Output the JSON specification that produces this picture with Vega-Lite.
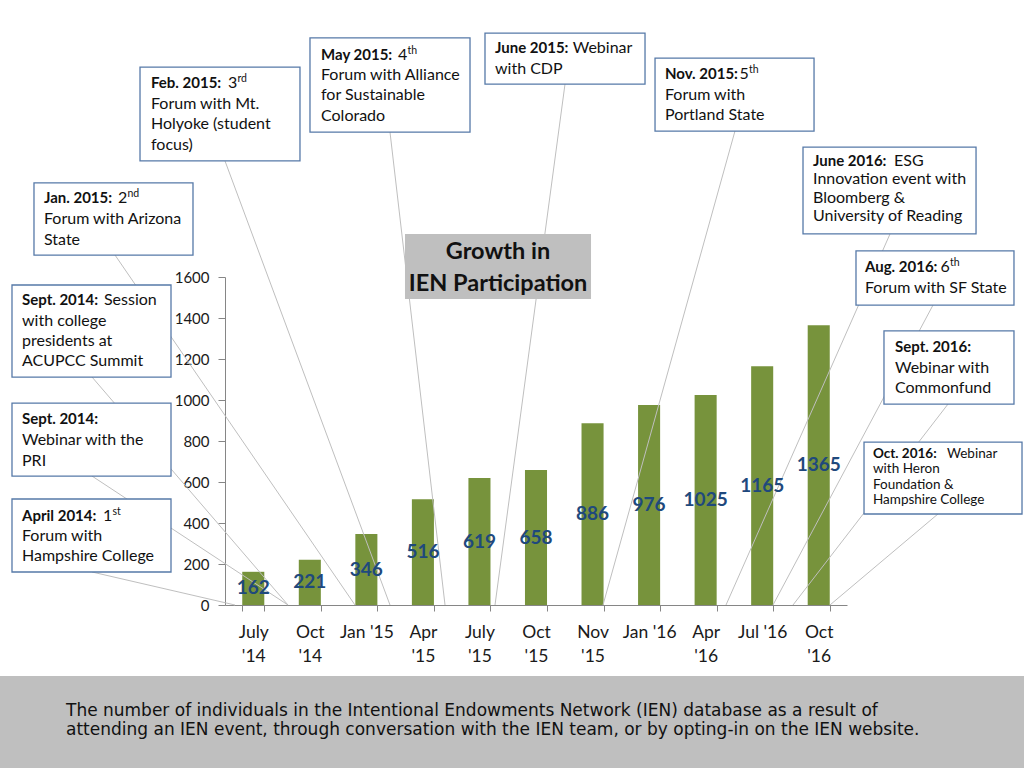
{
  "$schema": "https://vega.github.io/schema/vega-lite/v6.json",
  "width": 622,
  "height": 328,
  "autosize": {"type": "none"},
  "padding": {"left": 225, "top": 277, "right": 177, "bottom": 163},
  "background": "white",
  "config": {"view": {"stroke": null}, "font": "Lato"},
  "datasets": {
    "growth": [
      {"period": "July '14", "value": 162},
      {"period": "Oct '14", "value": 221},
      {"period": "Jan '15", "value": 346},
      {"period": "Apr '15", "value": 516},
      {"period": "July '15", "value": 619},
      {"period": "Oct '15", "value": 658},
      {"period": "Nov '15", "value": 886},
      {"period": "Jan '16", "value": 976},
      {"period": "Apr '16", "value": 1025},
      {"period": "Jul '16", "value": 1165},
      {"period": "Oct '16", "value": 1365}
    ],
    "boxes": [
      {"x": -2.003, "x2": 0.826, "y": 2624, "y2": 2166},
      {"x": 1.003, "x2": 3.833, "y": 2766, "y2": 2307},
      {"x": 4.098, "x2": 6.928, "y": 2790, "y2": 2541},
      {"x": 7.105, "x2": 9.917, "y": 2668, "y2": 2312},
      {"x": 9.722, "x2": 12.782, "y": 2234, "y2": 1810},
      {"x": -3.878, "x2": -1.066, "y": 2059, "y2": 1707},
      {"x": 10.659, "x2": 13.453, "y": 1727, "y2": 1463},
      {"x": -4.267, "x2": -1.455, "y": 1561, "y2": 1112},
      {"x": 11.154, "x2": 13.453, "y": 1337, "y2": 980},
      {"x": -4.267, "x2": -1.455, "y": 985, "y2": 629},
      {"x": 10.801, "x2": 13.595, "y": 795, "y2": 444},
      {"x": -4.267, "x2": -1.455, "y": 517, "y2": 161}
    ],
    "leaders": [
      {"x": -2.852, "y": 161, "x2": -0.323, "y2": 0},
      {"x": -2.852, "y": 1112, "x2": 0.614, "y2": 0},
      {"x": -2.852, "y": 629, "x2": 0.614, "y2": 0},
      {"x": -2.445, "y": 1707, "x2": 1.799, "y2": 0},
      {"x": -0.5, "y": 2166, "x2": 2.418, "y2": 0},
      {"x": 2.418, "y": 2307, "x2": 3.391, "y2": 0},
      {"x": 5.513, "y": 2541, "x2": 4.275, "y2": 0},
      {"x": 8.519, "y": 2312, "x2": 6.185, "y2": 0},
      {"x": 11.261, "y": 1810, "x2": 8.36, "y2": 0},
      {"x": 12.021, "y": 1463, "x2": 9.191, "y2": 0},
      {"x": 12.286, "y": 980, "x2": 9.545, "y2": 0},
      {"x": 12.109, "y": 444, "x2": 10.199, "y2": 0}
    ],
    "notes": [
      {"t": "Feb. 2015:", "x": -1.809, "y": 2546, "k": "b"},
      {"t": "3", "x": -0.447, "y": 2546, "k": "n"},
      {"t": "rd", "x": -0.279, "y": 2566, "k": "s"},
      {"t": "Forum with Mt.", "x": -1.809, "y": 2444, "k": "n"},
      {"t": "Holyoke (student", "x": -1.809, "y": 2346, "k": "n"},
      {"t": "focus)", "x": -1.809, "y": 2244, "k": "n"},
      {"t": "May 2015:", "x": 1.198, "y": 2683, "k": "b"},
      {"t": "4", "x": 2.56, "y": 2683, "k": "n"},
      {"t": "th", "x": 2.727, "y": 2703, "k": "s"},
      {"t": "Forum with Alliance", "x": 1.198, "y": 2585, "k": "n"},
      {"t": "for Sustainable", "x": 1.198, "y": 2488, "k": "n"},
      {"t": "Colorado", "x": 1.198, "y": 2385, "k": "n"},
      {"t": "June 2015:", "x": 4.275, "y": 2717, "k": "b"},
      {"t": "Webinar", "x": 5.65, "y": 2717, "k": "n"},
      {"t": "with CDP", "x": 4.275, "y": 2615, "k": "n"},
      {"t": "Nov. 2015:", "x": 7.281, "y": 2590, "k": "b"},
      {"t": "5", "x": 8.6, "y": 2590, "k": "n"},
      {"t": "th", "x": 8.768, "y": 2610, "k": "s"},
      {"t": "Forum with", "x": 7.281, "y": 2488, "k": "n"},
      {"t": "Portland State", "x": 7.281, "y": 2390, "k": "n"},
      {"t": "June 2016:", "x": 9.899, "y": 2166, "k": "b"},
      {"t": "ESG", "x": 11.331, "y": 2166, "k": "n"},
      {"t": "Innovation event with", "x": 9.899, "y": 2078, "k": "n"},
      {"t": "Bloomberg &", "x": 9.899, "y": 1985, "k": "n"},
      {"t": "University of Reading", "x": 9.899, "y": 1898, "k": "n"},
      {"t": "Jan. 2015:", "x": -3.701, "y": 1985, "k": "b"},
      {"t": "2", "x": -2.392, "y": 1985, "k": "n"},
      {"t": "nd", "x": -2.224, "y": 2005, "k": "s"},
      {"t": "Forum with Arizona", "x": -3.701, "y": 1883, "k": "n"},
      {"t": "State", "x": -3.701, "y": 1780, "k": "n"},
      {"t": "Aug. 2016:", "x": 10.818, "y": 1649, "k": "b"},
      {"t": "6", "x": 12.155, "y": 1649, "k": "n"},
      {"t": "th", "x": 12.323, "y": 1669, "k": "s"},
      {"t": "Forum with SF State", "x": 10.818, "y": 1546, "k": "n"},
      {"t": "Sept. 2014:", "x": -4.09, "y": 1488, "k": "b"},
      {"t": "Session", "x": -2.64, "y": 1488, "k": "n"},
      {"t": "with college", "x": -4.09, "y": 1385, "k": "n"},
      {"t": "presidents at", "x": -4.09, "y": 1288, "k": "n"},
      {"t": "ACUPCC Summit", "x": -4.09, "y": 1190, "k": "n"},
      {"t": "Sept. 2016:", "x": 11.349, "y": 1259, "k": "b"},
      {"t": "Webinar with", "x": 11.349, "y": 1156, "k": "n"},
      {"t": "Commonfund", "x": 11.349, "y": 1059, "k": "n"},
      {"t": "Sept. 2014:", "x": -4.09, "y": 907, "k": "b"},
      {"t": "Webinar with the", "x": -4.09, "y": 805, "k": "n"},
      {"t": "PRI", "x": -4.09, "y": 702, "k": "n"},
      {"t": "Oct. 2016:", "x": 10.96, "y": 737, "k": "ob"},
      {"t": "Webinar", "x": 12.269, "y": 737, "k": "on"},
      {"t": "with Heron", "x": 10.96, "y": 661, "k": "on"},
      {"t": "Foundation &", "x": 10.96, "y": 585, "k": "on"},
      {"t": "Hampshire College", "x": 10.96, "y": 510, "k": "on"},
      {"t": "April 2014:", "x": -4.09, "y": 434, "k": "b"},
      {"t": "1", "x": -2.658, "y": 434, "k": "n"},
      {"t": "st", "x": -2.49, "y": 454, "k": "s"},
      {"t": "Forum with", "x": -4.09, "y": 337, "k": "n"},
      {"t": "Hampshire College", "x": -4.09, "y": 239, "k": "n"},
      {"t": "Growth in", "x": 4.328, "y": 1722, "k": "t"},
      {"t": "IEN Participation", "x": 4.328, "y": 1566, "k": "t"},
      {"t": "The number of individuals in the Intentional Endowments Network (IEN) database as a result of", "x": -3.312, "y": -517, "k": "f"},
      {"t": "attending an IEN event, through conversation with the IEN team, or by opting-in on the IEN website.", "x": -3.312, "y": -610, "k": "f"}
    ],
    "panels": [
      {"x": -5, "x2": 15, "y": -346, "y2": -1000, "k": "footer"},
      {"x": 2.683, "x2": 5.973, "y": 1810, "y2": 1493, "k": "title"}
    ]
  },
  "resolve": {"scale": {"x": "independent", "y": "independent"}},
  "layer": [
    {
      "data": {"name": "growth"},
      "mark": {"type": "bar", "color": "#77933c"},
      "encoding": {
        "x": {
          "field": "period", "type": "nominal", "sort": null,
          "scale": {"paddingInner": 0.61, "paddingOuter": 0.305},
          "axis": {
            "title": null, "labelAngle": 0, "labelFontSize": 17.5, "labelColor": "#1a1a1a",
            "labelFont": "Lato", "tickBand": "extent", "tickSize": 6,
            "domainColor": "#868686", "tickColor": "#868686", "labelPadding": 12,
            "labelBaseline": "top", "labelLineHeight": 24,
            "labelExpr": "indexof(['Jan \\'15', 'Jan \\'16', 'Jul \\'16'], datum.label) >= 0 ? datum.label : split(datum.label, ' ')"
          }
        },
        "y": {
          "field": "value", "type": "quantitative",
          "scale": {"domain": [0, 1600], "nice": false},
          "axis": {
            "title": null, "values": [0, 200, 400, 600, 800, 1000, 1200, 1400, 1600], "format": "d",
            "grid": false, "labelFontSize": 15, "labelColor": "#1a1a1a", "labelFont": "Lato",
            "tickSize": 7, "domainColor": "#868686", "tickColor": "#868686", "labelPadding": 9
          }
        }
      }
    },
    {
      "data": {"name": "leaders"},
      "mark": {"type": "rule", "color": "#bfbfbf", "strokeWidth": 1},
      "encoding": {
        "x": {"field": "x", "type": "quantitative", "scale": {"domain": [-0.5, 10.5], "nice": false, "zero": false}, "axis": null},
        "x2": {"field": "x2"},
        "y": {"field": "y", "type": "quantitative", "scale": {"domain": [0, 1600], "nice": false, "zero": false}, "axis": null},
        "y2": {"field": "y2"}
      }
    },
    {
      "data": {"name": "panels"},
      "mark": {"type": "rect", "color": "#bfbfbf"},
      "encoding": {
        "x": {"field": "x", "type": "quantitative", "scale": {"domain": [-0.5, 10.5], "nice": false, "zero": false}, "axis": null},
        "x2": {"field": "x2"},
        "y": {"field": "y", "type": "quantitative", "scale": {"domain": [0, 1600], "nice": false, "zero": false}, "axis": null},
        "y2": {"field": "y2"}
      }
    },
    {
      "data": {"name": "boxes"},
      "mark": {"type": "rect", "fill": "white", "stroke": "#5679a8", "strokeWidth": 1.3},
      "encoding": {
        "x": {"field": "x", "type": "quantitative", "scale": {"domain": [-0.5, 10.5], "nice": false, "zero": false}, "axis": null},
        "x2": {"field": "x2"},
        "y": {"field": "y", "type": "quantitative", "scale": {"domain": [0, 1600], "nice": false, "zero": false}, "axis": null},
        "y2": {"field": "y2"}
      }
    },
    {
      "data": {"name": "notes"},
      "transform": [{"filter": "datum.k === 'b'"}],
      "mark": {"type": "text", "align": "left", "baseline": "middle", "font": "Lato", "fontWeight": "bold", "fontSize": 15, "color": "#111111"},
      "encoding": {
        "x": {"field": "x", "type": "quantitative", "scale": {"domain": [-0.5, 10.5], "nice": false, "zero": false}, "axis": null},
        "y": {"field": "y", "type": "quantitative", "scale": {"domain": [0, 1600], "nice": false, "zero": false}, "axis": null},
        "text": {"field": "t"}
      }
    },
    {
      "data": {"name": "notes"},
      "transform": [{"filter": "datum.k === 'n'"}],
      "mark": {"type": "text", "align": "left", "baseline": "middle", "font": "Lato", "fontSize": 16, "color": "#111111"},
      "encoding": {
        "x": {"field": "x", "type": "quantitative", "scale": {"domain": [-0.5, 10.5], "nice": false, "zero": false}, "axis": null},
        "y": {"field": "y", "type": "quantitative", "scale": {"domain": [0, 1600], "nice": false, "zero": false}, "axis": null},
        "text": {"field": "t"}
      }
    },
    {
      "data": {"name": "notes"},
      "transform": [{"filter": "datum.k === 's'"}],
      "mark": {"type": "text", "align": "left", "baseline": "middle", "font": "Lato", "fontSize": 10.5, "color": "#111111"},
      "encoding": {
        "x": {"field": "x", "type": "quantitative", "scale": {"domain": [-0.5, 10.5], "nice": false, "zero": false}, "axis": null},
        "y": {"field": "y", "type": "quantitative", "scale": {"domain": [0, 1600], "nice": false, "zero": false}, "axis": null},
        "text": {"field": "t"}
      }
    },
    {
      "data": {"name": "notes"},
      "transform": [{"filter": "datum.k === 'ob'"}],
      "mark": {"type": "text", "align": "left", "baseline": "middle", "font": "Lato", "fontWeight": "bold", "fontSize": 13.5, "color": "#111111"},
      "encoding": {
        "x": {"field": "x", "type": "quantitative", "scale": {"domain": [-0.5, 10.5], "nice": false, "zero": false}, "axis": null},
        "y": {"field": "y", "type": "quantitative", "scale": {"domain": [0, 1600], "nice": false, "zero": false}, "axis": null},
        "text": {"field": "t"}
      }
    },
    {
      "data": {"name": "notes"},
      "transform": [{"filter": "datum.k === 'on'"}],
      "mark": {"type": "text", "align": "left", "baseline": "middle", "font": "Lato", "fontSize": 13.5, "color": "#111111"},
      "encoding": {
        "x": {"field": "x", "type": "quantitative", "scale": {"domain": [-0.5, 10.5], "nice": false, "zero": false}, "axis": null},
        "y": {"field": "y", "type": "quantitative", "scale": {"domain": [0, 1600], "nice": false, "zero": false}, "axis": null},
        "text": {"field": "t"}
      }
    },
    {
      "data": {"name": "notes"},
      "transform": [{"filter": "datum.k === 't'"}],
      "mark": {"type": "text", "align": "center", "baseline": "middle", "font": "Lato", "fontWeight": "bold", "fontSize": 23.5, "color": "#111111"},
      "encoding": {
        "x": {"field": "x", "type": "quantitative", "scale": {"domain": [-0.5, 10.5], "nice": false, "zero": false}, "axis": null},
        "y": {"field": "y", "type": "quantitative", "scale": {"domain": [0, 1600], "nice": false, "zero": false}, "axis": null},
        "text": {"field": "t"}
      }
    },
    {
      "data": {"name": "notes"},
      "transform": [{"filter": "datum.k === 'f'"}],
      "mark": {"type": "text", "align": "left", "baseline": "middle", "font": "DejaVu Sans", "fontSize": 17, "color": "#111111"},
      "encoding": {
        "x": {"field": "x", "type": "quantitative", "scale": {"domain": [-0.5, 10.5], "nice": false, "zero": false}, "axis": null},
        "y": {"field": "y", "type": "quantitative", "scale": {"domain": [0, 1600], "nice": false, "zero": false}, "axis": null},
        "text": {"field": "t"}
      }
    },
    {
      "data": {"name": "growth"},
      "mark": {"type": "text", "align": "center", "baseline": "middle", "font": "Lato", "fontWeight": "bold", "fontSize": 19, "color": "#1f497d"},
      "encoding": {
        "x": {"field": "period", "type": "nominal", "sort": null, "scale": {"paddingInner": 0.61, "paddingOuter": 0.305}, "axis": null},
        "y": {"field": "value", "type": "quantitative", "scale": {"domain": [0, 3200], "nice": false}, "axis": null},
        "text": {"field": "value"}
      }
    }
  ]
}
